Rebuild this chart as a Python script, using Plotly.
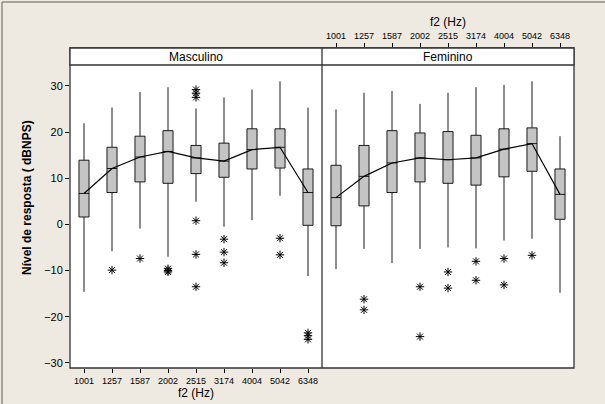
import plotly.graph_objects as go

freqs = ["1001", "1257", "1587", "2002", "2515", "3174", "4004", "5042", "6348"]

# Masculino
masc_lower = [-14.6, -5.8, -0.9, -7.0, 4.9, -0.5, 0.9, 6.2, -11.2]
masc_q1 = [1.6, 6.9, 9.2, 8.9, 11.0, 10.2, 12.0, 12.2, -0.2]
masc_median = [6.7, 12.1, 14.6, 15.8, 14.4, 13.7, 16.2, 16.7, 6.9]
masc_q3 = [13.9, 16.7, 19.1, 20.3, 17.1, 17.6, 20.7, 20.7, 12.0]
masc_upper = [21.9, 25.3, 28.7, 29.7, 25.1, 27.5, 29.2, 31.0, 25.3]
masc_out_x = ["1257", "1587", "2002", "2002", "2002", "2515", "2515", "2515", "2515", "2515", "2515",
              "3174", "3174", "3174", "5042", "5042", "6348", "6348", "6348"]
masc_out_y = [-9.9, -7.4, -9.6, -10.0, -10.3, 29.2, 28.4, 27.5, 0.8, -6.5, -13.5,
              -3.2, -6.0, -8.3, -3.0, -6.6, -23.5, -24.1, -24.9]

# Feminino
fem_lower = [-9.7, -5.3, -8.4, -5.3, -5.0, -5.2, -3.5, -3.1, -14.8]
fem_q1 = [-0.3, 4.0, 6.9, 9.2, 8.9, 8.5, 10.3, 11.5, 1.1]
fem_median = [5.8, 10.4, 13.3, 14.4, 14.0, 14.4, 16.3, 17.5, 6.5]
fem_q3 = [12.8, 17.1, 20.3, 19.8, 20.1, 19.3, 20.7, 20.9, 12.0]
fem_upper = [24.9, 28.5, 28.9, 26.1, 28.5, 29.7, 30.2, 31.0, 19.1]
fem_out_x = ["1257", "1257", "2002", "2002", "2515", "2515", "3174", "3174", "4004", "4004", "5042"]
fem_out_y = [-16.2, -18.5, -13.5, -24.3, -10.3, -13.8, -8.0, -12.1, -7.4, -13.1, -6.7]

y_ticks = [-30, -20, -10, 0, 10, 20, 30]

FONT = "Liberation Sans, Arial, sans-serif"
W, H = 605, 404
L, R, T, B = 70, 31, 48, 36
PW, PH = W - L - R, H - T - B


def px(x):
    return (x - L) / PW


def py(y):
    return (H - B - y) / PH


fig = go.Figure()

for xa, lo, q1, md, q3, up, ox, oy in [
    ("x", masc_lower, masc_q1, masc_median, masc_q3, masc_upper, masc_out_x, masc_out_y),
    ("x2", fem_lower, fem_q1, fem_median, fem_q3, fem_upper, fem_out_x, fem_out_y),
]:
    fig.add_trace(go.Box(
        x=freqs, q1=q1, median=md, q3=q3, lowerfence=lo, upperfence=up,
        xaxis=xa, yaxis="y", boxpoints=False, width=0.36, whiskerwidth=0,
        fillcolor="#C4C4C4", line=dict(color="#1a1a1a", width=1), showlegend=False,
        hoverinfo="skip",
    ))
    fig.add_trace(go.Scatter(
        x=freqs, y=md, xaxis=xa, yaxis="y", mode="lines",
        line=dict(color="black", width=1.2), showlegend=False, hoverinfo="skip",
    ))
    fig.add_trace(go.Scatter(
        x=ox, y=oy, xaxis=xa, yaxis="y", mode="markers",
        marker=dict(symbol="asterisk-open", size=7, color="black",
                    line=dict(color="black", width=1)),
        showlegend=False, hoverinfo="skip",
    ))

strip_bottom = py(65)

xcommon = dict(type="category", categoryorder="array", categoryarray=freqs,
               range=[-0.5, 8.5], showgrid=False, zeroline=False, showline=False,
               ticks="outside", ticklen=4, tickcolor="black", tickwidth=1,
               tickfont=dict(family=FONT, size=9, color="black"), fixedrange=True)


def ann(text, x, y, size=12, **kw):
    return dict(text=text, x=x, y=y, xref="paper", yref="paper", showarrow=False,
                xanchor="center", yanchor="middle",
                font=dict(family=FONT, size=size, color="black"), **kw)


fig.update_layout(
    width=W, height=H,
    margin=dict(l=L, r=R, t=T, b=B),
    paper_bgcolor="#EEEAE1", plot_bgcolor="white",
    xaxis=dict(domain=[0, 0.5], anchor="y", side="bottom", **xcommon),
    xaxis2=dict(domain=[0.5, 1], anchor="y", side="top", **xcommon),
    yaxis=dict(domain=[0, 1], anchor="x", range=[-31.1, 38.2],
               tickvals=y_ticks, ticks="outside", ticklen=4, tickcolor="black",
               showgrid=False, zeroline=False, showline=False,
               tickfont=dict(family=FONT, size=11, color="black")),
    shapes=[
        dict(type="rect", xref="paper", yref="paper", x0=0, x1=1, y0=0, y1=1,
             line=dict(color="#333333", width=1.3)),
        dict(type="rect", xref="paper", yref="paper", x0=0, x1=1, y0=strip_bottom, y1=1,
             fillcolor="white", line=dict(color="#333333", width=1.3)),
        dict(type="line", xref="paper", yref="paper", x0=0.5, x1=0.5, y0=0, y1=1,
             line=dict(color="#333333", width=1.3)),
        dict(type="line", xref="paper", yref="paper", x0=px(2), x1=px(2), y0=py(2), y1=py(H),
             line=dict(color="#8f8b84", width=1.5)),
        dict(type="line", xref="paper", yref="paper", x0=px(2), x1=px(W), y0=py(2), y1=py(2),
             line=dict(color="#8f8b84", width=1.5)),
    ],
    annotations=[
        ann("Masculino", 0.25, (strip_bottom + 1) / 2),
        ann("Feminino", 0.75, (strip_bottom + 1) / 2),
        ann("f2 (Hz)", 0.25, py(393)),
        ann("f2 (Hz)", 0.75, py(22)),
        ann("<b>Nível de resposta ( dBNPS)</b>", px(27), py(198), textangle=-90),
    ],
)

fig.write_html("out.html", config={"displayModeBar": False},
               post_script="document.body.style.margin='0';")
